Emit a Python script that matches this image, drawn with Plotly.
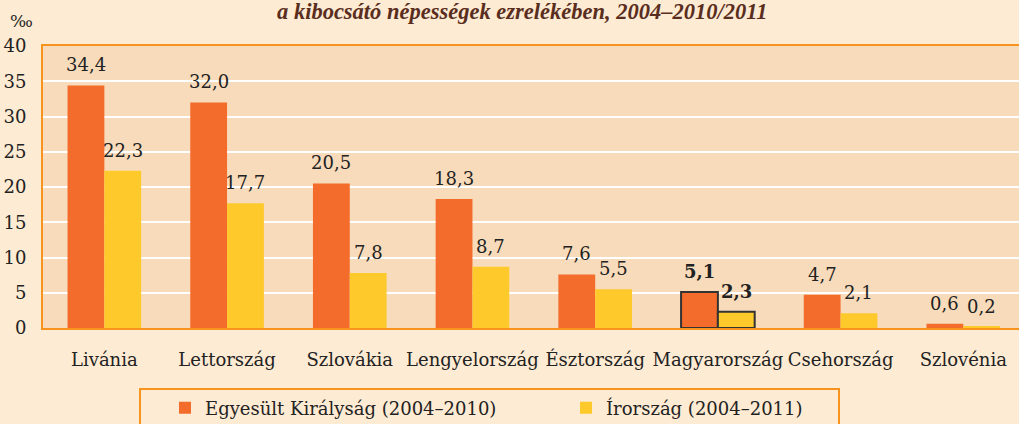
import plotly.graph_objects as go

categories = ["Livánia", "Lettország", "Szlovákia", "Lengyelország", "Észtország",
              "Magyarország", "Csehország", "Szlovénia"]
uk_values = [34.4, 32.0, 20.5, 18.3, 7.6, 5.1, 4.7, 0.6]
ie_values = [22.3, 17.7, 7.8, 8.7, 5.5, 2.3, 2.1, 0.2]
series_names = ["Egyesült Királyság (2004–2010)", "Írország (2004–2011)"]
highlight = "Magyarország"
y_ticks = [0, 5, 10, 15, 20, 25, 30, 35, 40]
title_text = "a kibocsátó népességek ezrelékében, 2004–2010/2011"
unit_text = "‰"

ORANGE = "#F36C2B"
YELLOW = "#FEC92A"
BORDER = "#F7941D"
PAPER = "#FEEBD3"
PLOTBG = "#F8DBBA"
TXT = "#222222"
FONT = "DejaVu Serif"

L, T, B = 43, 46, 96
W, H = 1019, 424
PW, PH = W - L, H - T - B
X_MAX = 7.454


def px_x(px):
    return (px - L) / PW


def px_y(py):
    return (H - B - py) / PH


def fmt(c, v):
    s = f"{v:.1f}".replace(".", ",")
    return f"<b>{s}</b>" if c == highlight else s


line_w = [2 if c == highlight else 0 for c in categories]

fig = go.Figure()
series = [(series_names[0], uk_values, ORANGE), (series_names[1], ie_values, YELLOW)]
for name, vals, col in series:
    fig.add_trace(go.Bar(
        x=categories, y=vals, name=name,
        marker=dict(color=col, line=dict(color="#333333", width=line_w)),
    ))

# data labels above bars
bar_px = PW / (X_MAX + 0.5) * (1 - 0.4) / 2
annotations = []
for si, (name, vals, col) in enumerate(series):
    off = (-0.5 if si == 0 else 0.5) * bar_px
    for c, v in zip(categories, vals):
        annotations.append(dict(x=c, y=v, xref="x", yref="y", text=fmt(c, v), showarrow=False,
                                xanchor="center", yanchor="bottom", xshift=off, yshift=8,
                                font=dict(family=FONT, size=18, color=TXT)))

annotations += [
    dict(text=f"<b><i>{title_text}</i></b>", xref="paper", yref="paper", x=px_x(522),
         y=px_y(12), xanchor="center", yanchor="middle", showarrow=False,
         font=dict(family="Liberation Serif", size=22.5, color="#5A2E1E")),
    dict(text=unit_text, xref="paper", yref="paper", x=px_x(21), y=px_y(21),
         xanchor="center", yanchor="middle", showarrow=False,
         font=dict(family=FONT, size=17, color=TXT)),
]

fig.update_layout(
    width=W, height=H,
    margin=dict(l=L, r=0, t=T, b=B, autoexpand=False),
    paper_bgcolor=PAPER, plot_bgcolor=PLOTBG,
    barmode="group", bargap=0.4, bargroupgap=0,
    font=dict(family=FONT, size=18, color=TXT),
    showlegend=True,
    legend=dict(orientation="h", x=px_x(165), xanchor="left", y=px_y(408), yanchor="middle",
                bgcolor="rgba(0,0,0,0)", borderwidth=0, entrywidth=356, entrywidthmode="pixels",
                font=dict(family=FONT, size=18, color=TXT)),
    xaxis=dict(range=[-0.5, X_MAX], showline=True, linecolor=BORDER, linewidth=2, mirror=True,
               ticks="", ticklabelstandoff=14, tickfont=dict(family=FONT, size=18, color=TXT),
               showgrid=False),
    yaxis=dict(range=[0, 40], tickvals=y_ticks, showline=True, linecolor=BORDER, linewidth=2,
               gridcolor="white", gridwidth=2, ticks="", zeroline=False, ticklabelstandoff=11,
               tickfont=dict(family=FONT, size=18, color=TXT)),
    shapes=[dict(type="rect", xref="paper", yref="paper",
                 x0=px_x(140), x1=px_x(839), y0=px_y(430), y1=px_y(389),
                 line=dict(color=BORDER, width=2), fillcolor="rgba(0,0,0,0)")],
    annotations=annotations,
)

fig.write_html("out.html", config={"displayModeBar": False},
               post_script="document.body.style.margin='0';document.body.style.overflow='hidden';")
